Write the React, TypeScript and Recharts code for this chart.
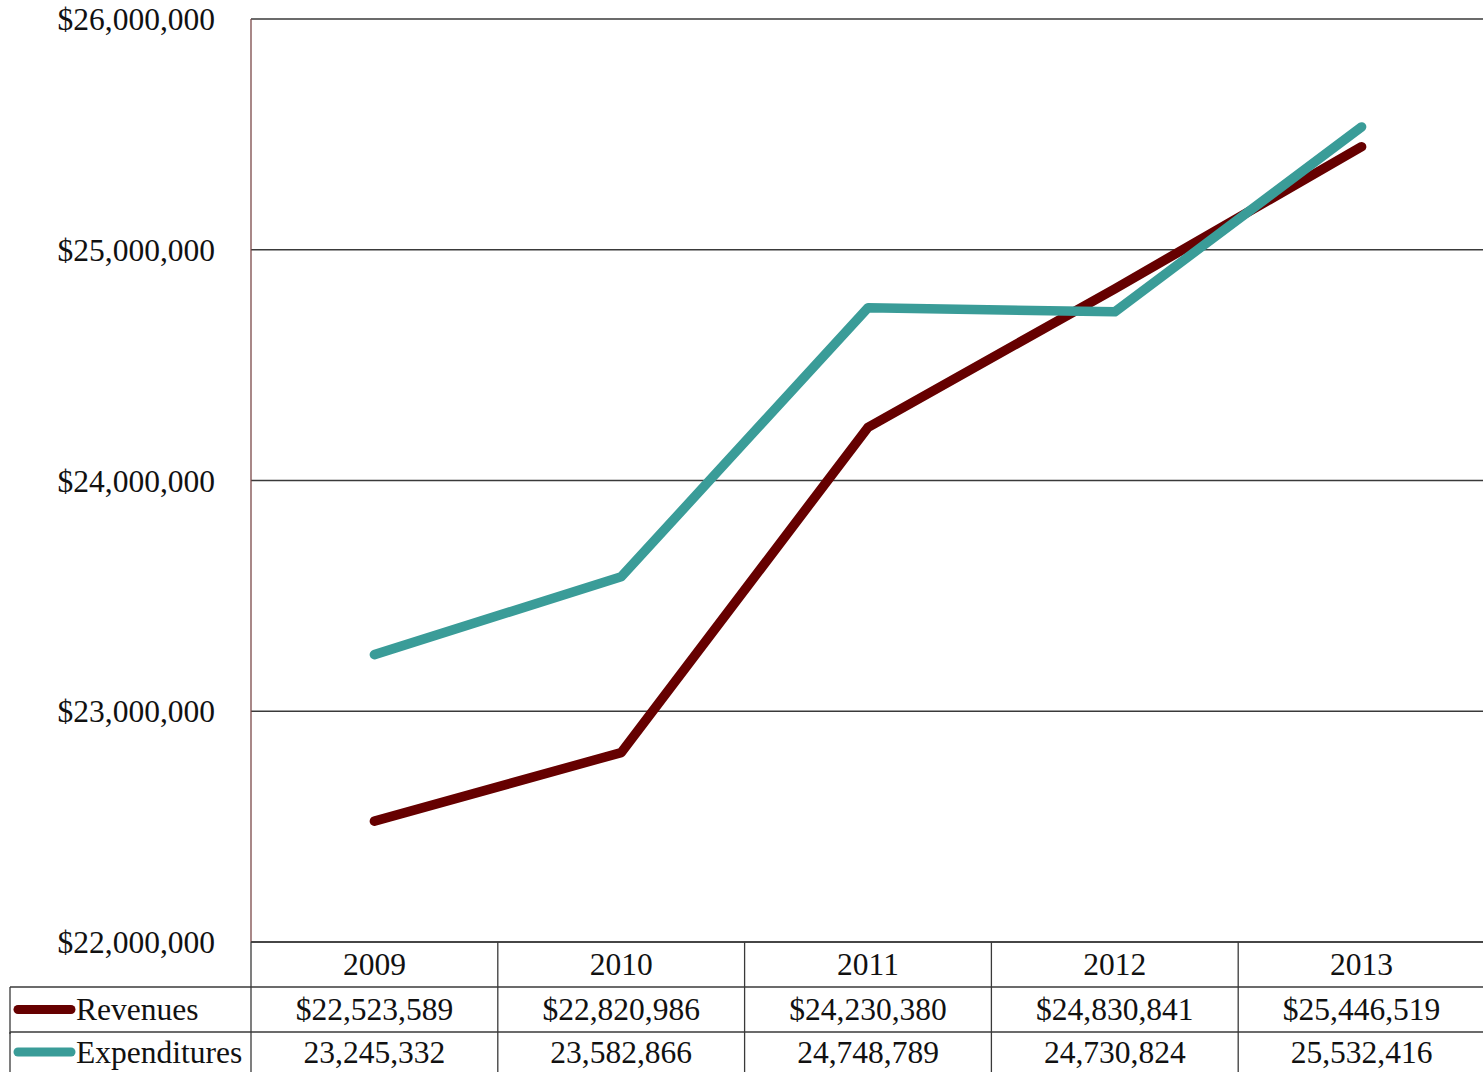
import React from 'react';
import { LineChart, Line, XAxis, YAxis, CartesianGrid } from 'recharts';

const years = ['2009', '2010', '2011', '2012', '2013'];
const revenues = [22523589, 22820986, 24230380, 24830841, 25446519];
const expenditures = [23245332, 23582866, 24748789, 24730824, 25532416];
const yTicks = [22000000, 23000000, 24000000, 25000000, 26000000];

const REV_COLOR = '#660000';
const EXP_COLOR = '#3a9c98';
const FONT = '"Liberation Serif", "Times New Roman", serif';
const FS = 31.5;
const HALF = 123.4;
const LINE = '#3a3a3a';

const data = years.map((y, i) => ({ year: y, revenues: revenues[i], expenditures: expenditures[i] }));

const fmt = (v: number) => v.toLocaleString('en-US');

function CellTick(props: any) {
  const { x, y, payload, row, rowH } = props;
  const i = payload.index;
  let label = payload.value;
  if (row === 'rev') label = '$' + fmt(revenues[i]);
  if (row === 'exp') label = fmt(expenditures[i]);
  const cy = y + rowH / 2;
  return (
    <g>
      <line x1={x + HALF} x2={x + HALF} y1={y} y2={y + rowH} stroke={LINE} strokeWidth={1.3} />
      {i === 0 && <line x1={x - HALF} x2={x - HALF} y1={y} y2={y + rowH} stroke={LINE} strokeWidth={1.3} />}
      {i === 0 && row !== 'year' && (
        <g>
          <line x1={10} x2={x - HALF} y1={y} y2={y} stroke={LINE} strokeWidth={1.3} />
          <line x1={10} x2={10} y1={y} y2={y + rowH + 2} stroke={LINE} strokeWidth={1.3} />
          <line x1={18} x2={71} y1={cy} y2={cy} stroke={row === 'rev' ? REV_COLOR : EXP_COLOR} strokeWidth={9} strokeLinecap="round" />
          <text x={76} y={cy} dominantBaseline="central" fontFamily={FONT} fontSize={FS} fill="#111">
            {row === 'rev' ? 'Revenues' : 'Expenditures'}
          </text>
        </g>
      )}
      <text x={x} y={cy} textAnchor="middle" dominantBaseline="central" fontFamily={FONT} fontSize={FS} fill="#111">
        {label}
      </text>
    </g>
  );
}

export default function App() {
  return (
    <div style={{ position: 'absolute', left: 0, top: 0, width: 1483, height: 1072, overflow: 'hidden', background: '#fff' }}>
      <LineChart width={1485} height={1072} data={data} margin={{ top: 19, right: 0, bottom: 0, left: 0 }}>
        <CartesianGrid vertical={false} stroke={LINE} strokeWidth={1.3} />
        <YAxis
          domain={[22000000, 26000000]}
          ticks={yTicks}
          width={251}
          tickFormatter={(v: number) => '$' + fmt(v)}
          axisLine={{ stroke: '#7a4848', strokeWidth: 1.3 }}
          tickLine={false}
          tickSize={0}
          tickMargin={36}
          tick={{ fontSize: FS, fill: '#111', fontFamily: FONT }}
        />
        <XAxis
          xAxisId={0}
          dataKey="year"
          height={45}
          interval={0}
          padding={{ left: HALF, right: HALF }}
          tickLine={false}
          tickSize={0}
          tickMargin={0}
          axisLine={{ stroke: LINE, strokeWidth: 1.3 }}
          tick={(p: any) => <CellTick {...p} row="year" rowH={45} />}
        />
        <XAxis
          xAxisId={1}
          dataKey="year"
          height={45}
          interval={0}
          padding={{ left: HALF, right: HALF }}
          tickLine={false}
          tickSize={0}
          tickMargin={0}
          axisLine={{ stroke: LINE, strokeWidth: 1.3 }}
          tick={(p: any) => <CellTick {...p} row="rev" rowH={45} />}
        />
        <XAxis
          xAxisId={2}
          dataKey="year"
          height={40}
          interval={0}
          padding={{ left: HALF, right: HALF }}
          tickLine={false}
          tickSize={0}
          tickMargin={0}
          axisLine={{ stroke: LINE, strokeWidth: 1.3 }}
          tick={(p: any) => <CellTick {...p} row="exp" rowH={40} />}
        />
        <Line
          xAxisId={0}
          type="linear"
          dataKey="revenues"
          stroke={REV_COLOR}
          strokeWidth={9.5}
          strokeLinecap="round"
          strokeLinejoin="round"
          dot={false}
          activeDot={false}
          isAnimationActive={false}
        />
        <Line
          xAxisId={0}
          type="linear"
          dataKey="expenditures"
          stroke={EXP_COLOR}
          strokeWidth={9.5}
          strokeLinecap="round"
          strokeLinejoin="round"
          dot={false}
          activeDot={false}
          isAnimationActive={false}
        />
      </LineChart>
    </div>
  );
}
